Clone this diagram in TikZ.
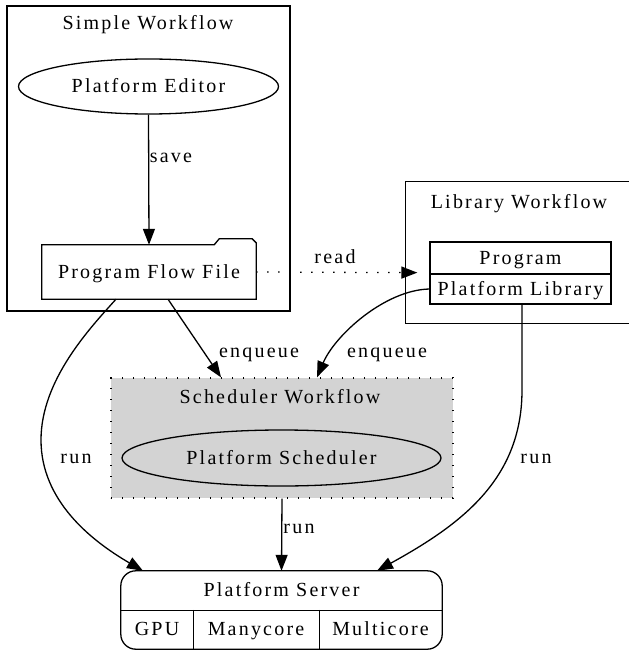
\documentclass[tikz,border=0pt]{standalone}
\usepackage{fontspec}
\setmainfont{Liberation Serif}[LetterSpace=11]
\usetikzlibrary{arrows.meta,shapes.geometric,calc}
\definecolor{clgray}{HTML}{D3D3D3}
\tikzset{
  txt/.style={font=\fontsize{20}{24}\selectfont, inner sep=0pt, text height=14.5pt, text depth=2pt},
  lbl/.style={font=\fontsize{20}{24}\selectfont, inner sep=0pt, anchor=base},
  box/.style={txt, rectangle, minimum width=#1},
  ell/.style={txt, ellipse, draw, line width=1.3pt},
  edge/.style={line width=1.3pt, -{Triangle[length=16pt,width=12pt]}},
  dotline/.style={line width=1.3pt, dash pattern=on 1.3pt off 9.7pt},
}
\begin{document}
\begin{tikzpicture}[x=1pt,y=-1pt]
\useasboundingbox (0,0) rectangle (629,652);
% clusters
\node[draw, line width=1.3pt, minimum width=283, minimum height=305, inner sep=0pt] (swc) at (148.5,158.5) {};
\node[lbl] (swt) at (148,30) {Simple Workflow};
\node[minimum width=240, minimum height=141, inner sep=0pt] (lwc) at (526,252.5) {};
\draw[line width=1.3pt] ($(lwc.north west)+(223,0)$) -- (lwc.north west) -- (lwc.south west) -- ($(lwc.south west)+(223,0)$);
\node[lbl] (lwt) at (519,208) {Library Workflow};
\node[fill=clgray, draw, dotline, minimum width=342, minimum height=120, inner sep=0pt] (schedc) at (282,438) {};
\node[lbl] (scht) at (280,403) {Scheduler Workflow};
% nodes
\node[ell, minimum width=260, minimum height=55] (ed) at (148.5,86.5) {Platform Editor};
\node[box=214, minimum height=54] (pff) at (149,272) {Program Flow File};
\draw[line width=1.3pt] (pff.south west) -- (pff.north west) -- ($(pff.north east)+(-42,0)$) -- ($(pff.north east)+(-37,-6)$) -- ($(pff.north east)+(-4,-6)$) -- ($(pff.north east)+(0,-2)$) -- (pff.south east) -- cycle;
\node[box=181, minimum height=32, draw, line width=1.3pt] (prog) at (520.5,258) {Program};
\node[box=181, minimum height=30, draw, line width=1.3pt] (plib) at (520.5,289) {Platform Library};
\node[ell, minimum width=319, minimum height=56] (ps) at (281.5,458) {Platform Scheduler};
% server record
\node[box=321, minimum height=39] (srv) at (281.5,590.5) {Platform Server};
\node[box=72, minimum height=39] (gpu) at (157,629.5) {GPU};
\node[box=126, minimum height=39] (many) at (256,629.5) {Manycore};
\node[box=123, minimum height=39] (multi) at (380.5,629.5) {Multicore};
\draw[line width=1.3pt, rounded corners=15pt] (gpu.south west) rectangle (multi.south east |- srv.north);
\draw[line width=1.3pt] (srv.south west) -- (srv.south east);
\draw[line width=1.3pt] (gpu.north east) -- (gpu.south east);
\draw[line width=1.3pt] (many.north east) -- (many.south east);
% edges
\draw[edge] (ed.south) -- (pff.north);
\node[lbl] (lsave) at (171,163) {save};
\coordinate (readend) at ($(prog.south west)+(-12,-2)$);
\draw[dotline, -{Triangle[length=16pt,width=12pt]}] (pff.east) -- (readend);
\node[lbl] (lread) at (335,263) {read};
\draw[edge] ($(pff.south)+(19,0)$) -- ($(schedc.north)+(-61,0)$);
\node[lbl] (lenq1) at (259,357) {enqueue};
\draw[edge] (plib.west) .. controls (385,290) and (335,335) .. ($(schedc.north)+(35,0)$);
\node[lbl] (lenq2) at (387,357) {enqueue};
\draw[edge] ($(pff.south)+(-33,0)$) .. controls (90,328) and (41,380) .. (41,440) .. controls (41,500) and (90,540) .. ($(srv.north)+(-138.5,0)$);
\node[lbl] (lrun1) at (76,463) {run};
\draw[edge] (schedc.south) -- (srv.north);
\node[lbl] (lrun2) at (299,533) {run};
\draw[edge] ($(plib.south)+(1.5,0)$) -- (522,390) .. controls (522,480) and (460,525) .. ($(srv.north)+(95.5,0)$);
\node[lbl] (lrun3) at (536,463) {run};
\end{tikzpicture}
\end{document}
